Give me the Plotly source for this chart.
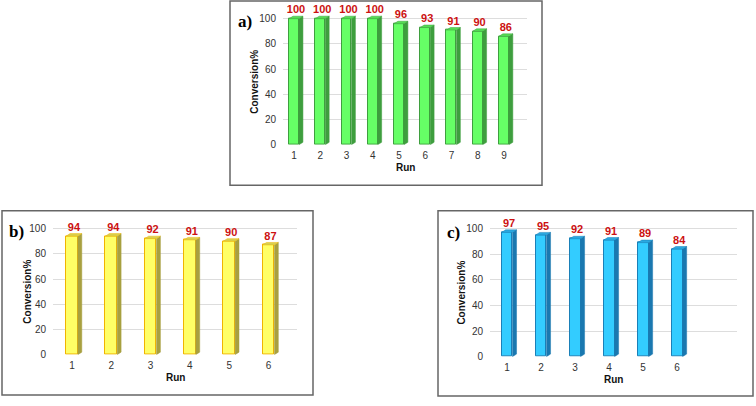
import plotly.graph_objects as go

# ---- data ----
runs_a = [1, 2, 3, 4, 5, 6, 7, 8, 9]
conv_a = [100, 100, 100, 100, 96, 93, 91, 90, 86]
runs_b = [1, 2, 3, 4, 5, 6]
conv_b = [94, 94, 92, 91, 90, 87]
runs_c = [1, 2, 3, 4, 5, 6]
conv_c = [97, 95, 92, 91, 89, 84]
y_ticks = [0, 20, 40, 60, 80, 100]
panel_labels = ["a)", "b)", "c)"]

W, H = 756, 406

def px_x(p):
    return p / W

def px_y(p):
    return 1 - p / H

fig = go.Figure()

panels = [
    dict(runs=runs_a, vals=conv_a, ax="", front="#66ff66", edge="#3f9f3f", side="#3e9e3e", top="#55dd55",
         bw=0.38, d=0.15, dy=2.0,
         xdom=[px_x(283), px_x(527)], xr=[0.58, 9.88], ydom=[px_y(147), px_y(147 - 1.28 * 108)],
         box=[230, 1, 542, 188], lab=(245, 22), ytitle_x=255, run_y=170),
    dict(runs=runs_b, vals=conv_b, ax="2", front="#ffff66", edge="#f0b400", side="#a8a040", top="#d8d050",
         bw=0.30, d=0.10, dy=2.0,
         xdom=[px_x(53), px_x(297)], xr=[0.517, 6.725], ydom=[px_y(360), px_y(360 - 1.28 * 108)],
         box=[2, 214, 313, 401], lab=(16, 235), ytitle_x=28, run_y=383),
    dict(runs=runs_c, vals=conv_c, ax="3", front="#33ccff", edge="#1a80b8", side="#1a78b0", top="#2aa8e0",
         bw=0.32, d=0.12, dy=2.0,
         xdom=[px_x(490), px_x(737)], xr=[0.5, 7.76], ydom=[px_y(362), px_y(362 - 1.30 * 108)],
         box=[438, 214, 753, 402], lab=(453, 236), ytitle_x=462, run_y=385),
]

shapes = []
annotations = []
layout_axes = {}

for k, p in enumerate(panels):
    xa = "x" + p["ax"]
    ya = "y" + p["ax"]
    runs, vals = p["runs"], p["vals"]
    bw, d, dy = p["bw"], p["d"], p["dy"]
    # front faces
    fig.add_trace(go.Bar(x=runs, y=vals, width=bw, marker=dict(color=p["front"], line=dict(color=p["edge"], width=1)),
                         xaxis=xa, yaxis=ya, showlegend=False, hoverinfo="skip"))
    # side and top faces
    sx, sy, tx, ty = [], [], [], []
    for r, v in zip(runs, vals):
        r0 = r + bw / 2
        sx += [r0, r0 + d, r0 + d, r0, r0, None]
        sy += [0, dy, v + dy, v, 0, None]
        tx += [r - bw / 2, r - bw / 2 + d, r0 + d, r0, r - bw / 2, None]
        ty += [v, v + dy, v + dy, v, v, None]
    fig.add_trace(go.Scatter(x=sx, y=sy, fill="toself", fillcolor=p["side"], mode="lines",
                             line=dict(color=p["side"], width=0.5), xaxis=xa, yaxis=ya,
                             showlegend=False, hoverinfo="skip"))
    fig.add_trace(go.Scatter(x=tx, y=ty, fill="toself", fillcolor=p["top"], mode="lines",
                             line=dict(color=p["edge"], width=0.5), xaxis=xa, yaxis=ya,
                             showlegend=False, hoverinfo="skip"))
    # value labels
    fig.add_trace(go.Scatter(x=[r + d / 2 for r in runs], y=[v + dy for v in vals], mode="text",
                             text=[str(v) for v in vals], textposition="top center",
                             textfont=dict(family="Liberation Sans, Arial", size=11, color="#cc1111", weight="bold"),
                             xaxis=xa, yaxis=ya, showlegend=False, hoverinfo="skip", cliponaxis=False))
    xkey = "xaxis" + p["ax"]
    ykey = "yaxis" + p["ax"]
    layout_axes[xkey] = dict(domain=p["xdom"], range=p["xr"], anchor=ya, tickmode="array", tickvals=runs,
                             ticktext=[str(r) for r in runs], showgrid=False, zeroline=False, showline=False,
                             ticks="", tickfont=dict(family="Liberation Sans, Arial", size=10, color="#333333"),
                             ticklabelstandoff=3, fixedrange=True)
    layout_axes[ykey] = dict(domain=p["ydom"], range=[0, 108], anchor=xa, tickmode="array", tickvals=y_ticks,
                             showgrid=True, gridcolor="#dddddd", gridwidth=1, zeroline=False, showline=False,
                             ticks="", tickfont=dict(family="Liberation Sans, Arial", size=10, color="#333333"),
                             ticklabelstandoff=6, fixedrange=True)
    # box
    b = p["box"]
    shapes.append(dict(type="rect", xref="paper", yref="paper", x0=px_x(b[0]), x1=px_x(b[2]),
                       y0=px_y(b[3]), y1=px_y(b[1]), line=dict(color="#666666", width=1.5)))
    # panel label
    annotations.append(dict(text=panel_labels[k], xref="paper", yref="paper", x=px_x(p["lab"][0]), y=px_y(p["lab"][1]),
                            showarrow=False, xanchor="center", yanchor="middle",
                            font=dict(family="Liberation Serif, Times New Roman", size=17, color="#000000", weight="bold")))
    # y title
    y0pix = (1 - p["ydom"][0]) * H
    y100pix = y0pix - (y0pix - (1 - p["ydom"][1]) * H) * 100 / 108
    annotations.append(dict(text="Conversion%", xref="paper", yref="paper", x=px_x(p["ytitle_x"]),
                            y=px_y((y0pix + y100pix) / 2), textangle=-90, showarrow=False,
                            xanchor="center", yanchor="middle",
                            font=dict(family="Liberation Sans, Arial", size=10, color="#111111", weight="bold")))
    # x title
    xmid = (p["xdom"][0] + p["xdom"][1]) / 2
    annotations.append(dict(text="Run", xref="paper", yref="paper", x=xmid, y=px_y(p["run_y"]),
                            showarrow=False, xanchor="center", yanchor="middle",
                            font=dict(family="Liberation Sans, Arial", size=10, color="#111111", weight="bold")))

fig.update_layout(width=W, height=H, margin=dict(l=0, r=0, t=0, b=0), paper_bgcolor="white",
                  plot_bgcolor="white", shapes=shapes, annotations=annotations, bargap=0, **layout_axes)

post = (
    "var s=document.createElement('style');"
    "s.textContent='html,body{margin:0;padding:0;overflow:hidden;height:406px;width:756px;}';"
    "document.head.appendChild(s);"
)
fig.write_html("out.html", config={"displayModeBar": False, "responsive": False}, post_script=post)
